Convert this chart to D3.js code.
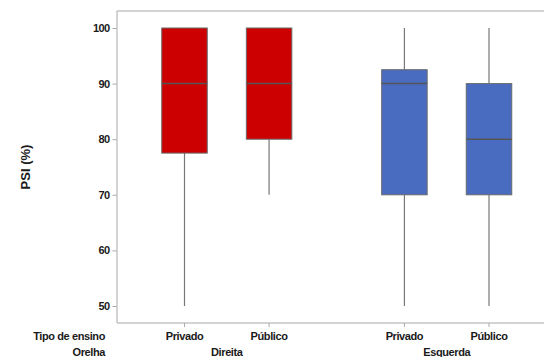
<!DOCTYPE html>
<html><head><meta charset="utf-8">
<script src="https://cdn.jsdelivr.net/npm/d3@7"></script>
<style>
body{margin:0;background:#fff;}
text{font-family:"Liberation Sans",Arial,sans-serif;font-weight:bold;fill:#1a1a1a;}
</style></head><body>
<svg id="c" width="544" height="357"></svg>
<script>
const groups = ["Direita","Esquerda"];
const tipos = ["Privado","Público"];
const boxGroup = ["Direita","Direita","Esquerda","Esquerda"];
const boxTipo = ["Privado","Público","Privado","Público"];
const mins = [50,70,50,50];
const q1s = [77.5,80,70,70];
const medians = [90,90,90,80];
const q3s = [100,100,92.5,90];
const maxs = [100,100,100,100];
const colors = {"Direita":"#cc0000","Esquerda":"#4a6cc0"};
const yTicks = [50,60,70,80,90,100];

(function(){
const svg = d3.select("#c");
const pL = 117, pT = 11, pB = 323, pR = 544;
const y = d3.scaleLinear().domain([50,100]).range([306,28]);
const x = d3.scaleLinear().domain([0,3.6]).range([184.5,489]);
const slot = i => i + groups.indexOf(boxGroup[i])*0.6;
const bw = 45.5;

// frame
svg.append("line").attr("x1",pL).attr("x2",pR).attr("y1",pT).attr("y2",pT).attr("stroke","#c4c4c4").attr("stroke-width",1.5);
svg.append("line").attr("x1",pL).attr("x2",pL).attr("y1",pT).attr("y2",pB).attr("stroke","#c4c4c4").attr("stroke-width",1.5);
svg.append("line").attr("x1",pL).attr("x2",pR).attr("y1",pB).attr("y2",pB).attr("stroke","#c4c4c4").attr("stroke-width",1.5);

// y axis
const yAxis = d3.axisLeft(y).tickValues(yTicks).tickSize(4).tickPadding(3);
const ga = svg.append("g").attr("transform",`translate(${pL-0.5},0)`).call(yAxis);
ga.select(".domain").remove();
ga.selectAll(".tick line").attr("stroke","#aaa");
ga.selectAll(".tick text").style("font-size","11px").style("letter-spacing","-0.6px").attr("fill","#1a1a1a");

// x ticks
const idx = d3.range(mins.length);
svg.selectAll(".xt").data(idx).enter().append("line")
  .attr("x1",i=>x(slot(i))).attr("x2",i=>x(slot(i)))
  .attr("y1",pB).attr("y2",pB+4).attr("stroke","#aaa");

// whiskers
const g = svg.append("g");
g.selectAll(".wu").data(idx).enter().append("line")
  .attr("x1",i=>x(slot(i))).attr("x2",i=>x(slot(i)))
  .attr("y1",i=>y(maxs[i])).attr("y2",i=>y(q3s[i])).attr("stroke","#777").attr("stroke-width",1.2);
g.selectAll(".wl").data(idx).enter().append("line")
  .attr("x1",i=>x(slot(i))).attr("x2",i=>x(slot(i)))
  .attr("y1",i=>y(q1s[i])).attr("y2",i=>y(mins[i])).attr("stroke","#777").attr("stroke-width",1.2);
// boxes
g.selectAll("rect").data(idx).enter().append("rect")
  .attr("x",i=>x(slot(i))-bw/2).attr("width",bw)
  .attr("y",i=>y(q3s[i])).attr("height",i=>y(q1s[i])-y(q3s[i]))
  .attr("fill",i=>colors[boxGroup[i]]).attr("stroke","#6a6a6a").attr("stroke-width",1);
// medians
g.selectAll(".med").data(idx).enter().append("line")
  .attr("x1",i=>x(slot(i))-bw/2).attr("x2",i=>x(slot(i))+bw/2)
  .attr("y1",i=>y(medians[i])).attr("y2",i=>y(medians[i]))
  .attr("stroke","#555").attr("stroke-width",1.5);

// x labels
svg.selectAll(".xl").data(idx).enter().append("text")
  .attr("x",i=>x(slot(i))).attr("y",340).attr("text-anchor","middle")
  .style("font-size","11px").style("letter-spacing","-0.4px").text(i=>boxTipo[i]);
groups.forEach(gname=>{
  const ii = idx.filter(i=>boxGroup[i]===gname);
  const cx = d3.mean(ii,i=>x(slot(i)));
  svg.append("text").attr("x",cx).attr("y",356).attr("text-anchor","middle")
    .style("font-size","11px").style("letter-spacing","-0.4px").text(gname);
});
svg.append("text").attr("x",105).attr("y",340).attr("text-anchor","end")
  .style("font-size","11px").style("letter-spacing","-0.4px").text("Tipo de ensino");
svg.append("text").attr("x",105).attr("y",356).attr("text-anchor","end")
  .style("font-size","11px").style("letter-spacing","-0.4px").text("Orelha");

// y title
svg.append("text").attr("transform","translate(30,167) rotate(-90)").attr("text-anchor","middle")
  .style("font-size","13px").text("PSI (%)");
})();
</script>
</body></html>
